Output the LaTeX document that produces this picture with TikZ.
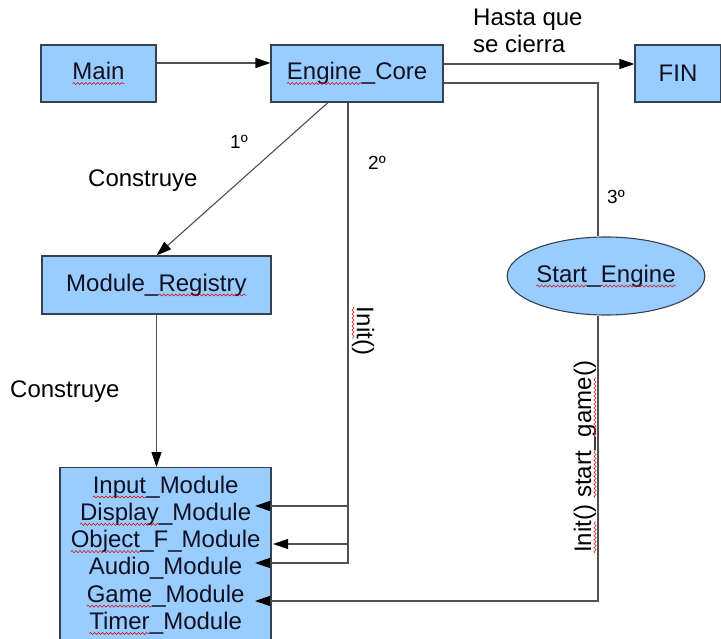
\documentclass[tikz,border=0pt]{standalone}
\usepackage{fontspec}
\setmainfont{Liberation Sans}
\usetikzlibrary{arrows.meta,shapes.geometric,decorations.pathmorphing}
\definecolor{boxfill}{HTML}{99CCFF}
\definecolor{boxline}{HTML}{36424F}
\definecolor{wire}{HTML}{505050}
\definecolor{ink}{HTML}{111122}
\newcommand\sq[1]{\tikz[baseline=0pt]{\node[shape=rectangle, draw=none, fill=none, minimum width=0pt, minimum height=0pt, inner sep=0pt, outer sep=0pt, anchor=base west] (sqw) at (0pt,0pt) {#1};
  \draw[red!85!black, line width=0.5pt, decorate, decoration={snake,amplitude=1.1pt,segment length=4pt}] ([yshift=-4pt]sqw.base west) -- ([yshift=-4pt]sqw.base east);}}
\newcommand\bigf{\fontsize{24}{28}\selectfont}
\newcommand\smallf{\fontsize{19}{22}\selectfont}
\tikzset{
  box/.style={draw=boxline, fill=boxfill, line width=1.1pt, inner sep=0pt, text=ink, font=\bigf},
  lbl/.style={inner sep=0pt, text=black, font=\bigf},
  ord/.style={inner sep=0pt, text=black, font=\smallf},
  wire/.style={draw=wire, line width=1.1pt},
  arr/.style={-{Triangle[length=15pt,width=10pt,color=black]}},
}
\begin{document}
\begin{tikzpicture}[x=1pt,y=-1pt]
\useasboundingbox (0,0) rectangle (721,639);
\fill[white] (0,0) rectangle (721,639);
\clip (0,0) rectangle (721,639);

% boxes
\node[box, minimum width=115pt, minimum height=57pt] (main) at (98.5,73.5) {\sq{Main}};
\node[box, minimum width=172pt, minimum height=57pt] (core) at (357,73.5) {\sq{Engine}\_Core};
\node[box, minimum width=86pt, minimum height=57pt] (fin) at (678,73.5) {FIN};
\node[box, minimum width=229pt, minimum height=58pt] (reg) at (156.5,285) {Module\_\sq{Registry}};
\node[box, ellipse, minimum width=173pt, minimum height=78pt, inner sep=0pt] (start) at (606,276) {\sq{Start}\_\sq{Engine}};
\node[box, minimum width=211pt, minimum height=190pt, anchor=north] (mods) at (165.5,467) {};

% module lines
\node[lbl, text=ink, anchor=base] (m1) at (165.5,493) {\sq{Input}\_Module};
\node[lbl, text=ink, anchor=base] (m2) at (165.5,520.3) {\sq{Display}\_Module};
\node[lbl, text=ink, anchor=base] (m3) at (165.5,547.6) {\sq{Object}\_F\_Module};
\node[lbl, text=ink, anchor=base] (m4) at (165.5,574.9) {Audio\_Module};
\node[lbl, text=ink, anchor=base] (m5) at (165.5,602.2) {\sq{Game}\_Module};
\node[lbl, text=ink, anchor=base] (m6) at (165.5,629.5) {\sq{Timer}\_Module};

% arrow tips at module list
\coordinate (tipD) at (255,506);
\coordinate (tipO) at (273,544);
\coordinate (tipA) at (255,563);
\coordinate (tipG) at (255,601);
\coordinate (tr) at ([xshift=-9pt]core.south);

% connectors
\draw[wire,arr] ([yshift=10.5pt]main.east) -- ([yshift=10.5pt]core.west);
\draw[wire,arr] ([yshift=9.5pt]core.east) -- ([yshift=9.5pt]fin.west);
\draw[wire] ([yshift=-9.5pt]core.east) -| ([xshift=-8pt]start.north);
\draw[wire,arr] ([xshift=-8pt]start.south) |- (tipG);
\draw[wire,arr] ([xshift=-29pt]core.south) -- (reg.north);
\draw[wire,arr] (reg.south) -- (reg.south |- mods.north);
\draw[wire,arr] (tr) |- (tipA);
\draw[wire,arr] (tr |- tipD) -- (tipD);
\draw[wire,arr] (tr |- tipO) -- (tipO);

% labels
\node[lbl, anchor=base west] (h1) at (473,26) {Hasta que};
\node[lbl, anchor=base west] (h2) at (473,53) {se cierra};
\node[lbl, anchor=base west] (c1) at (88,187) {Construye};
\node[lbl, anchor=base west] (c2) at (10,397) {Construye};
\node[ord, anchor=base west] (o1) at (230,149) {1º};
\node[ord, anchor=base west] (o2) at (368,170) {2º};
\node[ord, anchor=base west] (o3) at (607,204) {3º};
\node[lbl, rotate=-90] (i1) at (363,331) {\sq{Init}()};
\node[lbl, rotate=90] (i2) at (585,457) {\sq{Init}() \sq{start}\_\sq{game}()};
\end{tikzpicture}
\end{document}
